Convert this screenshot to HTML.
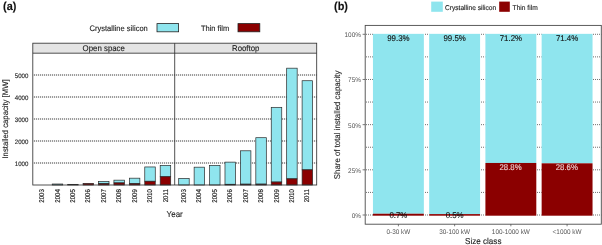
<!DOCTYPE html>
<html><head><meta charset="utf-8"><title>chart</title>
<style>html,body{margin:0;padding:0;background:#fff;}body{width:602px;height:245px;overflow:hidden;}svg{display:block;will-change:transform;}text{font-family:"Liberation Sans",sans-serif;text-rendering:geometricPrecision;}</style>
</head><body>
<svg width="602" height="245" viewBox="0 0 602 245">
<rect x="0" y="0" width="602" height="245" fill="#ffffff"/>
<text transform="translate(3,9.7) scale(1,1.06)" font-size="10.9" font-weight="bold" fill="#111" stroke="#111" stroke-width="0.12">(a)</text>
<text transform="translate(89.5,30.9) scale(1,1.06)" font-size="7.55" fill="#1e1e1e" stroke="#1e1e1e" stroke-width="0.12">Crystalline silicon</text>
<rect x="157" y="23.6" width="21.6" height="8.2" fill="#8fe5ee" stroke="#222" stroke-width="0.8"/>
<text transform="translate(200.9,30.9) scale(1,1.06)" font-size="7.5" fill="#1e1e1e" stroke="#1e1e1e" stroke-width="0.12">Thin film</text>
<rect x="238" y="23.6" width="21.8" height="8.2" fill="#8b0000" stroke="#222" stroke-width="0.8"/>
<rect x="32.8" y="43.2" width="283.9" height="10" fill="#e4e4e4"/>
<text transform="translate(103.75,51.3) scale(1,1.06)" font-size="7.85" text-anchor="middle" fill="#1e1e1e" stroke="#1e1e1e" stroke-width="0.12">Open space</text>
<text transform="translate(245.7,51.3) scale(1,1.06)" font-size="7.8" text-anchor="middle" fill="#1e1e1e" stroke="#1e1e1e" stroke-width="0.12">Rooftop</text>
<line x1="32.8" x2="316.7" y1="163" y2="163" stroke="#f0f0f0" stroke-width="2"/>
<line x1="34" x2="316.7" y1="163" y2="163" stroke="#383838" stroke-width="0.9" stroke-dasharray="1 1"/>
<text transform="translate(28.3,165.5) scale(1,1.06)" font-size="6.1" text-anchor="end" fill="#1e1e1e" stroke="#1e1e1e" stroke-width="0.12">1000</text>
<line x1="32.8" x2="316.7" y1="141" y2="141" stroke="#f0f0f0" stroke-width="2"/>
<line x1="34" x2="316.7" y1="141" y2="141" stroke="#383838" stroke-width="0.9" stroke-dasharray="1 1"/>
<text transform="translate(28.3,143.5) scale(1,1.06)" font-size="6.1" text-anchor="end" fill="#1e1e1e" stroke="#1e1e1e" stroke-width="0.12">2000</text>
<line x1="32.8" x2="316.7" y1="119" y2="119" stroke="#f0f0f0" stroke-width="2"/>
<line x1="34" x2="316.7" y1="119" y2="119" stroke="#383838" stroke-width="0.9" stroke-dasharray="1 1"/>
<text transform="translate(28.3,121.5) scale(1,1.06)" font-size="6.1" text-anchor="end" fill="#1e1e1e" stroke="#1e1e1e" stroke-width="0.12">3000</text>
<line x1="32.8" x2="316.7" y1="97" y2="97" stroke="#f0f0f0" stroke-width="2"/>
<line x1="34" x2="316.7" y1="97" y2="97" stroke="#383838" stroke-width="0.9" stroke-dasharray="1 1"/>
<text transform="translate(28.3,99.5) scale(1,1.06)" font-size="6.1" text-anchor="end" fill="#1e1e1e" stroke="#1e1e1e" stroke-width="0.12">4000</text>
<line x1="32.8" x2="316.7" y1="75" y2="75" stroke="#f0f0f0" stroke-width="2"/>
<line x1="34" x2="316.7" y1="75" y2="75" stroke="#383838" stroke-width="0.9" stroke-dasharray="1 1"/>
<text transform="translate(28.3,77.5) scale(1,1.06)" font-size="6.1" text-anchor="end" fill="#1e1e1e" stroke="#1e1e1e" stroke-width="0.12">5000</text>
<rect x="52.23" y="184.01" width="10.5" height="0.99" fill="#8fe5ee" stroke="#2a2a2a" stroke-width="0.7"/>
<rect x="67.65" y="184.34" width="10.5" height="0.66" fill="#8b0000" stroke="#2a2a2a" stroke-width="0.7"/>
<rect x="83.08" y="183.35" width="10.5" height="1.65" fill="#8b0000" stroke="#2a2a2a" stroke-width="0.7"/>
<rect x="98.5" y="181.48" width="10.5" height="2.2" fill="#8fe5ee" stroke="#2a2a2a" stroke-width="0.7"/>
<rect x="98.5" y="183.68" width="10.5" height="1.32" fill="#8b0000" stroke="#2a2a2a" stroke-width="0.7"/>
<rect x="113.92" y="180.16" width="10.5" height="2.75" fill="#8fe5ee" stroke="#2a2a2a" stroke-width="0.7"/>
<rect x="113.92" y="182.91" width="10.5" height="2.09" fill="#8b0000" stroke="#2a2a2a" stroke-width="0.7"/>
<rect x="129.35" y="178.18" width="10.5" height="5.5" fill="#8fe5ee" stroke="#2a2a2a" stroke-width="0.7"/>
<rect x="129.35" y="183.68" width="10.5" height="1.32" fill="#8b0000" stroke="#2a2a2a" stroke-width="0.7"/>
<rect x="144.77" y="166.96" width="10.5" height="14.3" fill="#8fe5ee" stroke="#2a2a2a" stroke-width="0.7"/>
<rect x="144.77" y="181.26" width="10.5" height="3.74" fill="#8b0000" stroke="#2a2a2a" stroke-width="0.7"/>
<rect x="160.2" y="165.42" width="10.5" height="11.33" fill="#8fe5ee" stroke="#2a2a2a" stroke-width="0.7"/>
<rect x="160.2" y="176.75" width="10.5" height="8.25" fill="#8b0000" stroke="#2a2a2a" stroke-width="0.7"/>
<rect x="178.7" y="178.4" width="10.5" height="6.6" fill="#8fe5ee" stroke="#2a2a2a" stroke-width="0.7"/>
<rect x="194.13" y="167.18" width="10.5" height="17.82" fill="#8fe5ee" stroke="#2a2a2a" stroke-width="0.7"/>
<rect x="209.55" y="165.42" width="10.5" height="19.58" fill="#8fe5ee" stroke="#2a2a2a" stroke-width="0.7"/>
<rect x="224.98" y="162.12" width="10.5" height="22.18" fill="#8fe5ee" stroke="#2a2a2a" stroke-width="0.7"/>
<rect x="224.98" y="184.3" width="10.5" height="0.7" fill="#8b0000" stroke="#2a2a2a" stroke-width="0.7"/>
<rect x="240.4" y="150.79" width="10.5" height="33.37" fill="#8fe5ee" stroke="#2a2a2a" stroke-width="0.7"/>
<rect x="240.4" y="184.16" width="10.5" height="0.84" fill="#8b0000" stroke="#2a2a2a" stroke-width="0.7"/>
<rect x="255.82" y="137.7" width="10.5" height="46.42" fill="#8fe5ee" stroke="#2a2a2a" stroke-width="0.7"/>
<rect x="255.82" y="184.12" width="10.5" height="0.88" fill="#8b0000" stroke="#2a2a2a" stroke-width="0.7"/>
<rect x="271.25" y="107.34" width="10.5" height="74.69" fill="#8fe5ee" stroke="#2a2a2a" stroke-width="0.7"/>
<rect x="271.25" y="182.03" width="10.5" height="2.97" fill="#8b0000" stroke="#2a2a2a" stroke-width="0.7"/>
<rect x="286.67" y="68.18" width="10.5" height="110.66" fill="#8fe5ee" stroke="#2a2a2a" stroke-width="0.7"/>
<rect x="286.67" y="178.84" width="10.5" height="6.16" fill="#8b0000" stroke="#2a2a2a" stroke-width="0.7"/>
<rect x="302.1" y="80.72" width="10.5" height="89.14" fill="#8fe5ee" stroke="#2a2a2a" stroke-width="0.7"/>
<rect x="302.1" y="169.86" width="10.5" height="15.14" fill="#8b0000" stroke="#2a2a2a" stroke-width="0.7"/>
<text transform="translate(44.15,189.1) rotate(-90) scale(1,1.15)" font-size="6.15" text-anchor="end" fill="#1e1e1e" stroke="#1e1e1e" stroke-width="0.12">2003</text>
<text transform="translate(59.58,189.1) rotate(-90) scale(1,1.15)" font-size="6.15" text-anchor="end" fill="#1e1e1e" stroke="#1e1e1e" stroke-width="0.12">2004</text>
<text transform="translate(75,189.1) rotate(-90) scale(1,1.15)" font-size="6.15" text-anchor="end" fill="#1e1e1e" stroke="#1e1e1e" stroke-width="0.12">2005</text>
<text transform="translate(90.43,189.1) rotate(-90) scale(1,1.15)" font-size="6.15" text-anchor="end" fill="#1e1e1e" stroke="#1e1e1e" stroke-width="0.12">2006</text>
<text transform="translate(105.85,189.1) rotate(-90) scale(1,1.15)" font-size="6.15" text-anchor="end" fill="#1e1e1e" stroke="#1e1e1e" stroke-width="0.12">2007</text>
<text transform="translate(121.27,189.1) rotate(-90) scale(1,1.15)" font-size="6.15" text-anchor="end" fill="#1e1e1e" stroke="#1e1e1e" stroke-width="0.12">2008</text>
<text transform="translate(136.7,189.1) rotate(-90) scale(1,1.15)" font-size="6.15" text-anchor="end" fill="#1e1e1e" stroke="#1e1e1e" stroke-width="0.12">2009</text>
<text transform="translate(152.12,189.1) rotate(-90) scale(1,1.15)" font-size="6.15" text-anchor="end" fill="#1e1e1e" stroke="#1e1e1e" stroke-width="0.12">2010</text>
<text transform="translate(167.55,189.1) rotate(-90) scale(1,1.15)" font-size="6.15" text-anchor="end" fill="#1e1e1e" stroke="#1e1e1e" stroke-width="0.12">2011</text>
<text transform="translate(186.05,189.1) rotate(-90) scale(1,1.15)" font-size="6.15" text-anchor="end" fill="#1e1e1e" stroke="#1e1e1e" stroke-width="0.12">2003</text>
<text transform="translate(201.48,189.1) rotate(-90) scale(1,1.15)" font-size="6.15" text-anchor="end" fill="#1e1e1e" stroke="#1e1e1e" stroke-width="0.12">2004</text>
<text transform="translate(216.9,189.1) rotate(-90) scale(1,1.15)" font-size="6.15" text-anchor="end" fill="#1e1e1e" stroke="#1e1e1e" stroke-width="0.12">2005</text>
<text transform="translate(232.33,189.1) rotate(-90) scale(1,1.15)" font-size="6.15" text-anchor="end" fill="#1e1e1e" stroke="#1e1e1e" stroke-width="0.12">2006</text>
<text transform="translate(247.75,189.1) rotate(-90) scale(1,1.15)" font-size="6.15" text-anchor="end" fill="#1e1e1e" stroke="#1e1e1e" stroke-width="0.12">2007</text>
<text transform="translate(263.17,189.1) rotate(-90) scale(1,1.15)" font-size="6.15" text-anchor="end" fill="#1e1e1e" stroke="#1e1e1e" stroke-width="0.12">2008</text>
<text transform="translate(278.6,189.1) rotate(-90) scale(1,1.15)" font-size="6.15" text-anchor="end" fill="#1e1e1e" stroke="#1e1e1e" stroke-width="0.12">2009</text>
<text transform="translate(294.02,189.1) rotate(-90) scale(1,1.15)" font-size="6.15" text-anchor="end" fill="#1e1e1e" stroke="#1e1e1e" stroke-width="0.12">2010</text>
<text transform="translate(309.45,189.1) rotate(-90) scale(1,1.15)" font-size="6.15" text-anchor="end" fill="#1e1e1e" stroke="#1e1e1e" stroke-width="0.12">2011</text>
<rect x="32.8" y="43.2" width="283.9" height="141.8" fill="none" stroke="#333" stroke-width="0.85"/>
<line x1="32.8" x2="316.7" y1="53.2" y2="53.2" stroke="#333" stroke-width="0.85"/>
<line x1="174.7" x2="174.7" y1="43.2" y2="185.0" stroke="#333" stroke-width="0.85"/>
<text transform="translate(174.7,216.7) scale(1,1.06)" font-size="8.0" text-anchor="middle" fill="#1e1e1e" stroke="#1e1e1e" stroke-width="0.12">Year</text>
<text transform="translate(8,119) rotate(-90) scale(1,1.06)" font-size="7.7" text-anchor="middle" fill="#1e1e1e" stroke="#1e1e1e" stroke-width="0.12">Installed capacity [MW]</text>
<text transform="translate(334,9.7) scale(1,1.06)" font-size="10.9" font-weight="bold" fill="#111" stroke="#111" stroke-width="0.12">(b)</text>
<rect x="431.2" y="1.6" width="11.6" height="10.2" fill="#8fe5ee"/>
<text transform="translate(444.9,10.2) scale(1,1.06)" font-size="6.65" fill="#1e1e1e" stroke="#1e1e1e" stroke-width="0.12">Crystalline silicon</text>
<rect x="499.2" y="1.6" width="10.6" height="10.2" fill="#8b0000"/>
<text transform="translate(512.6,10.2) scale(1,1.06)" font-size="6.65" fill="#1e1e1e" stroke="#1e1e1e" stroke-width="0.12">Thin film</text>
<line x1="366" x2="372.95" y1="215" y2="215" stroke="#555" stroke-width="0.85" stroke-dasharray="1 1"/>
<line x1="425" x2="429.18" y1="215" y2="215" stroke="#555" stroke-width="0.85" stroke-dasharray="1 1"/>
<line x1="481" x2="485.41" y1="215" y2="215" stroke="#555" stroke-width="0.85" stroke-dasharray="1 1"/>
<line x1="537" x2="541.64" y1="215" y2="215" stroke="#555" stroke-width="0.85" stroke-dasharray="1 1"/>
<line x1="593" x2="601.3" y1="215" y2="215" stroke="#555" stroke-width="0.85" stroke-dasharray="1 1"/>
<line x1="366" x2="372.95" y1="192.41" y2="192.41" stroke="#555" stroke-width="0.85" stroke-dasharray="1 1"/>
<line x1="425" x2="429.18" y1="192.41" y2="192.41" stroke="#555" stroke-width="0.85" stroke-dasharray="1 1"/>
<line x1="481" x2="485.41" y1="192.41" y2="192.41" stroke="#555" stroke-width="0.85" stroke-dasharray="1 1"/>
<line x1="537" x2="541.64" y1="192.41" y2="192.41" stroke="#555" stroke-width="0.85" stroke-dasharray="1 1"/>
<line x1="593" x2="601.3" y1="192.41" y2="192.41" stroke="#555" stroke-width="0.85" stroke-dasharray="1 1"/>
<line x1="366" x2="372.95" y1="169.82" y2="169.82" stroke="#555" stroke-width="0.85" stroke-dasharray="1 1"/>
<line x1="425" x2="429.18" y1="169.82" y2="169.82" stroke="#555" stroke-width="0.85" stroke-dasharray="1 1"/>
<line x1="481" x2="485.41" y1="169.82" y2="169.82" stroke="#555" stroke-width="0.85" stroke-dasharray="1 1"/>
<line x1="537" x2="541.64" y1="169.82" y2="169.82" stroke="#555" stroke-width="0.85" stroke-dasharray="1 1"/>
<line x1="593" x2="601.3" y1="169.82" y2="169.82" stroke="#555" stroke-width="0.85" stroke-dasharray="1 1"/>
<line x1="366" x2="372.95" y1="147.24" y2="147.24" stroke="#555" stroke-width="0.85" stroke-dasharray="1 1"/>
<line x1="425" x2="429.18" y1="147.24" y2="147.24" stroke="#555" stroke-width="0.85" stroke-dasharray="1 1"/>
<line x1="481" x2="485.41" y1="147.24" y2="147.24" stroke="#555" stroke-width="0.85" stroke-dasharray="1 1"/>
<line x1="537" x2="541.64" y1="147.24" y2="147.24" stroke="#555" stroke-width="0.85" stroke-dasharray="1 1"/>
<line x1="593" x2="601.3" y1="147.24" y2="147.24" stroke="#555" stroke-width="0.85" stroke-dasharray="1 1"/>
<line x1="366" x2="372.95" y1="124.65" y2="124.65" stroke="#555" stroke-width="0.85" stroke-dasharray="1 1"/>
<line x1="425" x2="429.18" y1="124.65" y2="124.65" stroke="#555" stroke-width="0.85" stroke-dasharray="1 1"/>
<line x1="481" x2="485.41" y1="124.65" y2="124.65" stroke="#555" stroke-width="0.85" stroke-dasharray="1 1"/>
<line x1="537" x2="541.64" y1="124.65" y2="124.65" stroke="#555" stroke-width="0.85" stroke-dasharray="1 1"/>
<line x1="593" x2="601.3" y1="124.65" y2="124.65" stroke="#555" stroke-width="0.85" stroke-dasharray="1 1"/>
<line x1="366" x2="372.95" y1="102.06" y2="102.06" stroke="#555" stroke-width="0.85" stroke-dasharray="1 1"/>
<line x1="425" x2="429.18" y1="102.06" y2="102.06" stroke="#555" stroke-width="0.85" stroke-dasharray="1 1"/>
<line x1="481" x2="485.41" y1="102.06" y2="102.06" stroke="#555" stroke-width="0.85" stroke-dasharray="1 1"/>
<line x1="537" x2="541.64" y1="102.06" y2="102.06" stroke="#555" stroke-width="0.85" stroke-dasharray="1 1"/>
<line x1="593" x2="601.3" y1="102.06" y2="102.06" stroke="#555" stroke-width="0.85" stroke-dasharray="1 1"/>
<line x1="366" x2="372.95" y1="79.48" y2="79.48" stroke="#555" stroke-width="0.85" stroke-dasharray="1 1"/>
<line x1="425" x2="429.18" y1="79.48" y2="79.48" stroke="#555" stroke-width="0.85" stroke-dasharray="1 1"/>
<line x1="481" x2="485.41" y1="79.48" y2="79.48" stroke="#555" stroke-width="0.85" stroke-dasharray="1 1"/>
<line x1="537" x2="541.64" y1="79.48" y2="79.48" stroke="#555" stroke-width="0.85" stroke-dasharray="1 1"/>
<line x1="593" x2="601.3" y1="79.48" y2="79.48" stroke="#555" stroke-width="0.85" stroke-dasharray="1 1"/>
<line x1="366" x2="372.95" y1="56.89" y2="56.89" stroke="#555" stroke-width="0.85" stroke-dasharray="1 1"/>
<line x1="425" x2="429.18" y1="56.89" y2="56.89" stroke="#555" stroke-width="0.85" stroke-dasharray="1 1"/>
<line x1="481" x2="485.41" y1="56.89" y2="56.89" stroke="#555" stroke-width="0.85" stroke-dasharray="1 1"/>
<line x1="537" x2="541.64" y1="56.89" y2="56.89" stroke="#555" stroke-width="0.85" stroke-dasharray="1 1"/>
<line x1="593" x2="601.3" y1="56.89" y2="56.89" stroke="#555" stroke-width="0.85" stroke-dasharray="1 1"/>
<line x1="366" x2="372.95" y1="34.3" y2="34.3" stroke="#555" stroke-width="0.85" stroke-dasharray="1 1"/>
<line x1="425" x2="429.18" y1="34.3" y2="34.3" stroke="#555" stroke-width="0.85" stroke-dasharray="1 1"/>
<line x1="481" x2="485.41" y1="34.3" y2="34.3" stroke="#555" stroke-width="0.85" stroke-dasharray="1 1"/>
<line x1="537" x2="541.64" y1="34.3" y2="34.3" stroke="#555" stroke-width="0.85" stroke-dasharray="1 1"/>
<line x1="593" x2="601.3" y1="34.3" y2="34.3" stroke="#555" stroke-width="0.85" stroke-dasharray="1 1"/>
<text transform="translate(360.9,217.9) scale(1,1.06)" font-size="6.4" text-anchor="end" fill="#555">0%</text>
<line x1="362.6" x2="365.2" y1="215" y2="215" stroke="#444" stroke-width="0.7"/>
<text transform="translate(360.9,172.72) scale(1,1.06)" font-size="6.4" text-anchor="end" fill="#555">25%</text>
<line x1="362.6" x2="365.2" y1="169.82" y2="169.82" stroke="#444" stroke-width="0.7"/>
<text transform="translate(360.9,127.55) scale(1,1.06)" font-size="6.4" text-anchor="end" fill="#555">50%</text>
<line x1="362.6" x2="365.2" y1="124.65" y2="124.65" stroke="#444" stroke-width="0.7"/>
<text transform="translate(360.9,82.38) scale(1,1.06)" font-size="6.4" text-anchor="end" fill="#555">75%</text>
<line x1="362.6" x2="365.2" y1="79.48" y2="79.48" stroke="#444" stroke-width="0.7"/>
<text transform="translate(360.9,37.2) scale(1,1.06)" font-size="6.4" text-anchor="end" fill="#555">100%</text>
<line x1="362.6" x2="365.2" y1="34.3" y2="34.3" stroke="#444" stroke-width="0.7"/>
<rect x="372.95" y="33.85" width="50.9" height="179.89" fill="#8fe5ee"/>
<rect x="372.95" y="213.74" width="50.9" height="1.96" fill="#8b0000"/>
<text transform="translate(398.4,41.1) scale(1,1.06)" font-size="7.9" text-anchor="middle" fill="#111" stroke="#111" stroke-width="0.12">99.3%</text>
<text transform="translate(398.4,217.6) scale(1,1.06)" font-size="7.9" text-anchor="middle" fill="#111" stroke="#111" stroke-width="0.12">0.7%</text>
<line x1="398.4" x2="398.4" y1="224.2" y2="226.29999999999998" stroke="#444" stroke-width="0.7"/>
<text transform="translate(398.4,234.1) scale(1,1.06)" font-size="6.4" text-anchor="middle" fill="#555">0-30 kW</text>
<rect x="429.18" y="33.85" width="50.9" height="180.25" fill="#8fe5ee"/>
<rect x="429.18" y="214.1" width="50.9" height="1.6" fill="#8b0000"/>
<text transform="translate(454.63,41.1) scale(1,1.06)" font-size="7.9" text-anchor="middle" fill="#111" stroke="#111" stroke-width="0.12">99.5%</text>
<text transform="translate(454.63,218.1) scale(1,1.06)" font-size="7.9" text-anchor="middle" fill="#111" stroke="#111" stroke-width="0.12">0.5%</text>
<line x1="454.63" x2="454.63" y1="224.2" y2="226.29999999999998" stroke="#444" stroke-width="0.7"/>
<text transform="translate(454.63,234.1) scale(1,1.06)" font-size="6.4" text-anchor="middle" fill="#555">30-100 kW</text>
<rect x="485.41" y="33.85" width="50.9" height="129.11" fill="#8fe5ee"/>
<rect x="485.41" y="162.96" width="50.9" height="52.74" fill="#8b0000"/>
<text transform="translate(510.86,41.1) scale(1,1.06)" font-size="7.9" text-anchor="middle" fill="#111" stroke="#111" stroke-width="0.12">71.2%</text>
<text transform="translate(510.56,170.06) scale(1,1.06)" font-size="7.8" text-anchor="middle" fill="#ecd0d0" stroke="#ecd0d0" stroke-width="0.12">28.8%</text>
<line x1="510.86" x2="510.86" y1="224.2" y2="226.29999999999998" stroke="#444" stroke-width="0.7"/>
<text transform="translate(510.86,234.1) scale(1,1.06)" font-size="6.4" text-anchor="middle" fill="#555">100-1000 kW</text>
<rect x="541.64" y="33.85" width="50.9" height="129.47" fill="#8fe5ee"/>
<rect x="541.64" y="163.32" width="50.9" height="52.38" fill="#8b0000"/>
<text transform="translate(567.09,41.1) scale(1,1.06)" font-size="7.9" text-anchor="middle" fill="#111" stroke="#111" stroke-width="0.12">71.4%</text>
<text transform="translate(566.79,170.42) scale(1,1.06)" font-size="7.8" text-anchor="middle" fill="#ecd0d0" stroke="#ecd0d0" stroke-width="0.12">28.6%</text>
<line x1="567.09" x2="567.09" y1="224.2" y2="226.29999999999998" stroke="#444" stroke-width="0.7"/>
<text transform="translate(567.09,234.1) scale(1,1.06)" font-size="6.4" text-anchor="middle" fill="#555">&lt;1000 kW</text>
<rect x="365.2" y="25.4" width="236.1" height="198.8" fill="none" stroke="#4a4a4a" stroke-width="0.9"/>
<text transform="translate(483.25,243.6) scale(1,1.06)" font-size="8.1" text-anchor="middle" fill="#1e1e1e" stroke="#1e1e1e" stroke-width="0.12">Size class</text>
<text transform="translate(339.7,124.9) rotate(-90) scale(1,1.06)" font-size="7.85" text-anchor="middle" fill="#1e1e1e" stroke="#1e1e1e" stroke-width="0.12">Share of total installed capacity</text>
</svg>
</body></html>
